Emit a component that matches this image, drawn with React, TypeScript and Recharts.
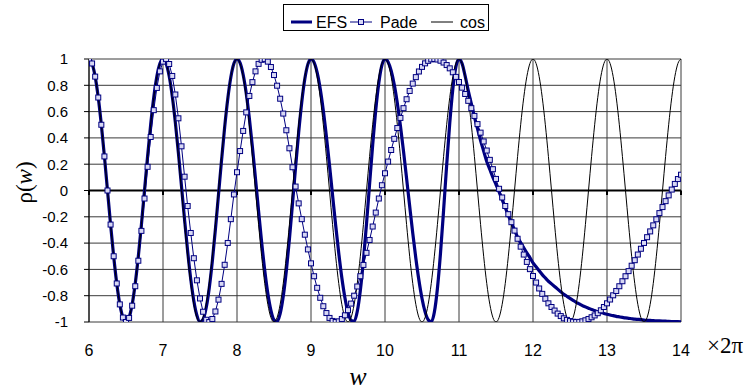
import React from 'react';
import { LineChart, Line, XAxis, YAxis, CartesianGrid, ReferenceLine } from 'recharts';

const W_START = 6;
const W_STEP = 1 / 24;
const X_TICKS = [6, 7, 8, 9, 10, 11, 12, 13, 14];
const Y_TICKS = [-1, -0.8, -0.6, -0.4, -0.2, 0, 0.2, 0.4, 0.6, 0.8, 1];

const COS = [
  1, 0.966, 0.866, 0.707, 0.5, 0.259, 0, -0.259, -0.5, -0.707, -0.866, -0.966, -1, -0.966, -0.866, -0.707, -0.5, -0.259, 0, 0.259, 0.5, 0.707, 0.866, 0.966,
  1, 0.966, 0.866, 0.707, 0.5, 0.259, 0, -0.259, -0.5, -0.707, -0.866, -0.966, -1, -0.966, -0.866, -0.707, -0.5, -0.259, 0, 0.259, 0.5, 0.707, 0.866, 0.966,
  1, 0.966, 0.866, 0.707, 0.5, 0.259, 0, -0.259, -0.5, -0.707, -0.866, -0.966, -1, -0.966, -0.866, -0.707, -0.5, -0.259, 0, 0.259, 0.5, 0.707, 0.866, 0.966,
  1, 0.966, 0.866, 0.707, 0.5, 0.259, 0, -0.259, -0.5, -0.707, -0.866, -0.966, -1, -0.966, -0.866, -0.707, -0.5, -0.259, 0, 0.259, 0.5, 0.707, 0.866, 0.966,
  1, 0.966, 0.866, 0.707, 0.5, 0.259, 0, -0.259, -0.5, -0.707, -0.866, -0.966, -1, -0.966, -0.866, -0.707, -0.5, -0.259, 0, 0.259, 0.5, 0.707, 0.866, 0.966,
  1, 0.966, 0.866, 0.707, 0.5, 0.259, 0, -0.259, -0.5, -0.707, -0.866, -0.966, -1, -0.966, -0.866, -0.707, -0.5, -0.259, 0, 0.259, 0.5, 0.707, 0.866, 0.966,
  1, 0.966, 0.866, 0.707, 0.5, 0.259, 0, -0.259, -0.5, -0.707, -0.866, -0.966, -1, -0.966, -0.866, -0.707, -0.5, -0.259, 0, 0.259, 0.5, 0.707, 0.866, 0.966,
  1, 0.966, 0.866, 0.707, 0.5, 0.259, 0, -0.259, -0.5, -0.707, -0.866, -0.966, -1, -0.966, -0.866, -0.707, -0.5, -0.259, 0, 0.259, 0.5, 0.707, 0.866, 0.966,
  1,
];

const EFS = [
  1, 0.966, 0.866, 0.707, 0.5, 0.259, 0, -0.259, -0.5, -0.707, -0.866, -0.966, -1, -0.966, -0.866, -0.707, -0.5, -0.259, 0, 0.259, 0.5, 0.707, 0.866, 0.966, 1,
  0.967, 0.871, 0.718, 0.518, 0.284, 0.031, -0.223, -0.463, -0.674, -0.84, -0.95, -0.998, -0.98, -0.892, -0.741, -0.537, -0.294, -0.032, 0.233, 0.482, 0.696, 0.861, 0.965, 1,
  0.97, 0.88, 0.738, 0.55, 0.33, 0.089, -0.157, -0.394, -0.607, -0.783, -0.911, -0.984, -0.997, -0.937, -0.805, -0.611, -0.37, -0.1, 0.177, 0.441, 0.671, 0.849, 0.961, 1,
  0.974, 0.896, 0.772, 0.607, 0.41, 0.192, -0.037, -0.264, -0.476, -0.664, -0.816, -0.927, -0.988, -0.995, -0.92, -0.76, -0.531, -0.254, 0.049, 0.345, 0.612, 0.82, 0.954, 1,
  0.978, 0.912, 0.806, 0.664, 0.492, 0.299, 0.092, -0.118, -0.324, -0.515, -0.683, -0.821, -0.923, -0.983, -0.999, -0.926, -0.745, -0.476, -0.151, 0.193, 0.512, 0.772, 0.941, 1,
  0.965, 0.87, 0.76, 0.66, 0.56, 0.47, 0.38, 0.3, 0.22, 0.16, 0.1, 0.045,
  -0.01, -0.07, -0.13, -0.19, -0.245, -0.3, -0.355, -0.395, -0.435, -0.475, -0.51, -0.55,
  -0.58, -0.61, -0.64, -0.665, -0.69, -0.71, -0.73, -0.75, -0.77, -0.79, -0.805, -0.82,
  -0.835, -0.85, -0.862, -0.875, -0.885, -0.895, -0.905, -0.913, -0.921, -0.928, -0.935, -0.941,
  -0.947, -0.952, -0.957, -0.961, -0.965, -0.969, -0.972, -0.975, -0.978, -0.98, -0.982, -0.985,
  -0.987, -0.988, -0.99, -0.991, -0.992, -0.993, -0.994, -0.995, -0.996, -0.997, -0.997, -0.998,
];

const PADE = [
  1, 0.966, 0.866, 0.707, 0.5, 0.259, 0, -0.259, -0.5, -0.707, -0.866, -0.966, -1,
  -0.969, -0.876, -0.728, -0.534, -0.307, -0.061, 0.18, 0.407, 0.611, 0.78, 0.906, 0.98,
  0.999, 0.962, 0.871, 0.73, 0.549, 0.336, 0.105, -0.118, -0.323, -0.515, -0.683, -0.821,
  -0.922, -0.983, -1, -0.977, -0.92, -0.83, -0.71, -0.565, -0.399, -0.218, -0.03, 0.139,
  0.3, 0.453, 0.594, 0.719, 0.824, 0.906, 0.963, 0.994, 0.999, 0.98, 0.939, 0.878,
  0.797, 0.698, 0.585, 0.458, 0.321, 0.177, 0.03, -0.098, -0.218, -0.336, -0.448, -0.554,
  -0.652, -0.74, -0.816, -0.88, -0.932, -0.969, -0.992, -1, -0.995, -0.977, -0.949, -0.91,
  -0.86, -0.8, -0.73, -0.652, -0.566, -0.474, -0.376, -0.274, -0.168, -0.061, 0.04, 0.131,
  0.22, 0.308, 0.393, 0.475, 0.552, 0.626, 0.694, 0.757, 0.813, 0.862, 0.905, 0.94,
  0.967, 0.986, 0.997, 1, 0.996, 0.987, 0.973, 0.954, 0.929, 0.899, 0.864, 0.825,
  0.782, 0.734, 0.682, 0.626, 0.567, 0.505, 0.44, 0.373, 0.304, 0.233, 0.162, 0.088,
  0.013, -0.053, -0.118, -0.18, -0.241, -0.305, -0.367, -0.427, -0.487, -0.543, -0.598, -0.65,
  -0.7, -0.745, -0.786, -0.823, -0.858, -0.886, -0.913, -0.936, -0.955, -0.972, -0.984, -0.993,
  -0.998, -1, -0.999, -0.995, -0.987, -0.977, -0.964, -0.95, -0.933, -0.911, -0.886, -0.858,
  -0.829, -0.797, -0.764, -0.728, -0.69, -0.652, -0.613, -0.572, -0.53, -0.487, -0.443, -0.399,
  -0.355, -0.311, -0.265, -0.219, -0.172, -0.126, -0.081, -0.037, 0.007, 0.05, 0.087, 0.12,
];

const data = COS.map((c, i) => ({
  w: W_START + i * W_STEP,
  efs: EFS[i],
  pade: PADE[i],
  cos: c,
}));

const NAVY = '#000080';
const SANS = '"Liberation Sans", Arial, sans-serif';
const SERIF = '"Liberation Serif", "Times New Roman", serif';

const SquareDot = (props: any) => {
  const { cx, cy, index } = props;
  if (cx == null || cy == null) return <g key={`d${index}`} />;
  return (
    <rect
      key={`d${index}`}
      x={cx - 2.5}
      y={cy - 2.5}
      width={5}
      height={5}
      fill="#d8d8f4"
      stroke={NAVY}
      strokeWidth={1}
    />
  );
};

const YTitle = (props: any) => {
  const vb = props.viewBox || {};
  const cx = vb.x - 5;
  const cy = vb.y + vb.height / 2 - 8;
  return (
    <text
      x={cx}
      y={cy}
      transform={`rotate(-90, ${cx}, ${cy})`}
      textAnchor="middle"
      dominantBaseline="central"
      fontFamily={SERIF}
      fontSize={23}
      fill="#000"
    >
      ρ(<tspan fontStyle="italic">w</tspan>)
    </text>
  );
};

const XTitle = (props: any) => {
  const vb = props.viewBox || {};
  return (
    <g>
      <text
        x={vb.x + 269}
        y={vb.y + 63}
        textAnchor="middle"
        fontFamily={SERIF}
        fontStyle="italic"
        fontSize={26}
        fill="#000"
      >
        w
      </text>
      <text
        x={vb.x + vb.width + 26}
        y={vb.y + 31}
        textAnchor="start"
        fontFamily={SERIF}
        fontSize={23}
        fill="#000"
      >
        ×2π
      </text>
    </g>
  );
};

const LegendBox = () => (
  <div
    style={{
      position: 'absolute',
      left: 283,
      top: 4,
      width: 206,
      height: 27,
      border: '1px solid #000',
      background: '#fff',
      boxSizing: 'border-box',
    }}
  >
    <svg width={206} height={27} style={{ position: 'absolute', left: -1, top: -1 }}>
      <line x1={8} x2={29} y1={18} y2={18} stroke={NAVY} strokeWidth={3} />
      <line x1={67} x2={89} y1={18} y2={18} stroke={NAVY} strokeWidth={1} />
      <rect x={75.5} y={15.5} width={5} height={5} fill="#d8d8f4" stroke={NAVY} strokeWidth={1} />
      <line x1={148} x2={170} y1={18} y2={18} stroke="#000" strokeWidth={1} />
      <text x={33} y={24} fontFamily={SANS} fontSize={16} fill="#000">EFS</text>
      <text x={97} y={24} fontFamily={SANS} fontSize={16} fill="#000">Pade</text>
      <text x={177} y={24} fontFamily={SANS} fontSize={16} fill="#000">cos</text>
    </svg>
  </div>
);

export default function App() {
  return (
    <div style={{ position: 'absolute', left: 0, top: 0, width: 751, height: 390, background: '#fff' }}>
      <LineChart
        width={751}
        height={390}
        data={data}
        margin={{ top: 59, right: 70, bottom: 0, left: 29 }}
      >
        <CartesianGrid stroke="#3a3a3a" strokeWidth={1} horizontalValues={Y_TICKS} verticalValues={X_TICKS} />
        <XAxis
          dataKey="w"
          type="number"
          domain={[6, 14]}
          ticks={X_TICKS}
          interval={0}
          allowDataOverflow
          axisLine={false}
          tickLine={false}
          tickSize={0}
          tickMargin={23}
          height={68}
          tick={{ fill: '#000', fontSize: 16, fontFamily: SANS }}
          label={<XTitle />}
        />
        <YAxis
          type="number"
          domain={[-1, 1]}
          ticks={Y_TICKS}
          interval={0}
          allowDataOverflow
          width={60}
          axisLine={{ stroke: '#000', strokeWidth: 1 }}
          tickLine={{ stroke: '#000', strokeWidth: 1 }}
          tickSize={5}
          tickMargin={16}
          tickFormatter={(v: number) => String(v)}
          tick={{ fill: '#000', fontSize: 15, fontFamily: SANS }}
          label={<YTitle />}
        />
        <ReferenceLine y={0} stroke="#000" strokeWidth={2} />
        {X_TICKS.map((t) => (
          <ReferenceLine
            key={`xt${t}`}
            segment={[{ x: t, y: 0 }, { x: t, y: -0.035 }]}
            stroke="#000"
            strokeWidth={2}
          />
        ))}
        <Line
          type="monotone"
          dataKey="efs"
          stroke={NAVY}
          strokeWidth={3.2}
          dot={false}
          activeDot={false}
          isAnimationActive={false}
        />
        <Line
          type="linear"
          dataKey="pade"
          stroke={NAVY}
          strokeWidth={1}
          dot={SquareDot}
          activeDot={false}
          isAnimationActive={false}
        />
        <Line
          type="monotone"
          dataKey="cos"
          stroke="#000"
          strokeWidth={1}
          dot={false}
          activeDot={false}
          isAnimationActive={false}
        />
      </LineChart>
      <LegendBox />
    </div>
  );
}
